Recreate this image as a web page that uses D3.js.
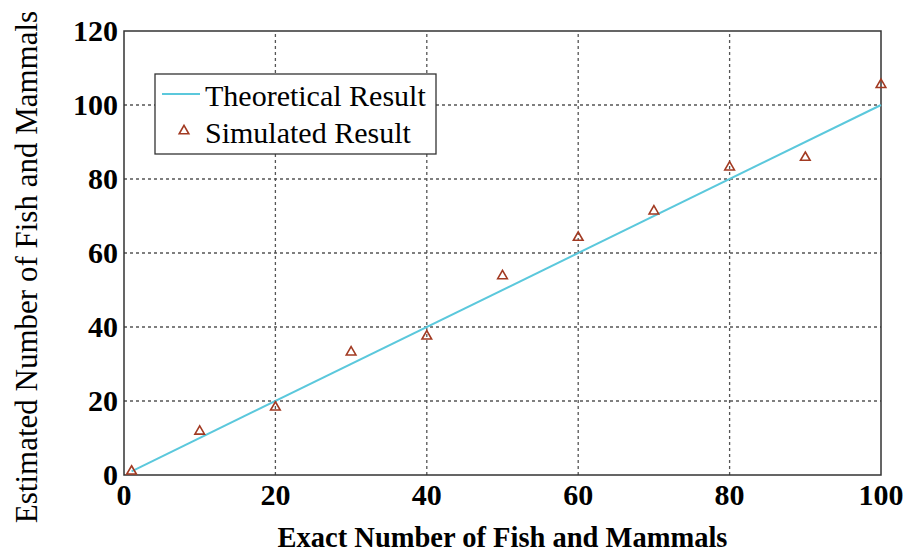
<!DOCTYPE html>
<meta charset="utf-8">
<head>
<script src="https://cdn.jsdelivr.net/npm/d3@7"></script>
<style>
body { margin: 0; background: #fff; }
text { font-family: "Liberation Serif", "Times New Roman", serif; }
</style>
</head>
<body>
<svg id="chart"></svg>
<script>
var theoryX = [1, 100];
var theoryY = [1, 100];
var simX = [1, 10, 20, 30, 40, 50, 60, 70, 80, 90, 100];
var simY = [1, 11.8, 18.3, 33.2, 37.5, 53.8, 64.2, 71.3, 83.2, 85.8, 105.5];
var xTicks = [0, 20, 40, 60, 80, 100];
var yTicks = [0, 20, 40, 60, 80, 100, 120];

var width = 909, height = 555;
var margin = {left: 124, right: 28, top: 31, bottom: 80};
var svg = d3.select("#chart").attr("width", width).attr("height", height);

var x = d3.scaleLinear().domain([0, 100]).range([margin.left, width - margin.right]);
var y = d3.scaleLinear().domain([0, 120]).range([height - margin.bottom, margin.top]);

// grid
svg.append("g").selectAll("line")
  .data(xTicks.slice(1, -1))
  .enter().append("line")
  .attr("x1", d => x(d)).attr("x2", d => x(d))
  .attr("y1", y(0)).attr("y2", y(120))
  .attr("stroke", "#555").attr("stroke-width", 1.3).attr("stroke-dasharray", "3,3");
svg.append("g").selectAll("line")
  .data(yTicks.slice(1, -1))
  .enter().append("line")
  .attr("y1", d => y(d)).attr("y2", d => y(d))
  .attr("x1", x(0)).attr("x2", x(100))
  .attr("stroke", "#555").attr("stroke-width", 1.3).attr("stroke-dasharray", "3,3");

// frame
svg.append("rect")
  .attr("x", x(0)).attr("y", y(120))
  .attr("width", x(100) - x(0)).attr("height", y(0) - y(120))
  .attr("fill", "none").attr("stroke", "#333").attr("stroke-width", 1.5);

// tick labels
svg.append("g").selectAll("text")
  .data(xTicks).enter().append("text")
  .attr("x", d => x(d)).attr("y", y(0) + 30)
  .attr("text-anchor", "middle")
  .attr("font-size", 30).attr("font-weight", "bold")
  .text(d => d);
svg.append("g").selectAll("text")
  .data(yTicks).enter().append("text")
  .attr("x", x(0) - 6).attr("y", d => y(d) + 10)
  .attr("text-anchor", "end")
  .attr("font-size", 30).attr("font-weight", "bold")
  .text(d => d);

// axis titles
svg.append("text")
  .attr("x", (x(0) + x(100)) / 2).attr("y", 547)
  .attr("text-anchor", "middle")
  .attr("font-size", 28.5).attr("font-weight", "bold")
  .text("Exact Number of Fish and Mammals");
svg.append("text")
  .attr("transform", "translate(37," + 267 + ") rotate(-90)")
  .attr("text-anchor", "middle")
  .attr("font-size", 31)
  .text("Estimated Number of Fish and Mammals");

// theoretical line
var line = d3.line().x(d => x(d[0])).y(d => y(d[1]));
svg.append("path")
  .datum(d3.zip(theoryX, theoryY))
  .attr("d", line)
  .attr("fill", "none").attr("stroke", "#5bc8dc").attr("stroke-width", 2);

// simulated markers
var tri = d3.symbol().type(d3.symbolTriangle).size(40);
svg.append("g").selectAll("path")
  .data(d3.zip(simX, simY)).enter().append("path")
  .attr("transform", d => "translate(" + x(d[0]) + "," + y(d[1]) + ")")
  .attr("d", tri)
  .attr("fill", "none").attr("stroke", "#a23a22").attr("stroke-width", 1.6);

// legend
var lg = svg.append("g").attr("transform", "translate(155,74)");
lg.append("rect").attr("width", 281).attr("height", 80)
  .attr("fill", "#fff").attr("stroke", "#333").attr("stroke-width", 1.3);
lg.append("line").attr("x1", 7).attr("x2", 45).attr("y1", 20).attr("y2", 20)
  .attr("stroke", "#5bc8dc").attr("stroke-width", 2);
lg.append("text").attr("x", 50).attr("y", 32).attr("font-size", 30).text("Theoretical Result");
lg.append("path").attr("transform", "translate(29,57)").attr("d", tri)
  .attr("fill", "none").attr("stroke", "#a23a22").attr("stroke-width", 1.6);
lg.append("text").attr("x", 50).attr("y", 69).attr("font-size", 30).text("Simulated Result");
</script>
</body>
